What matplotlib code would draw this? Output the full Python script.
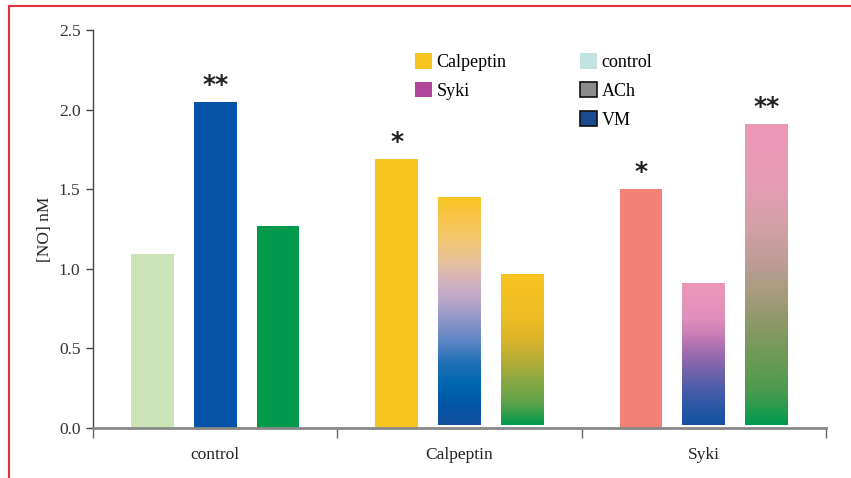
import numpy as np
import matplotlib
matplotlib.use("Agg")
import matplotlib.pyplot as plt
from matplotlib.colors import LinearSegmentedColormap
from matplotlib.patches import Patch
from matplotlib.lines import Line2D

plt.rcParams['font.family'] = ['Liberation Serif', 'DejaVu Serif']

# dati
groups = ["control", "Calpeptin", "Syki"]
control_vals = [1.09, 2.05, 1.27]
calpeptin_vals = [1.69, 1.45, 0.97]
syki_vals = [1.50, 0.91, 1.91]
stars = {(0, 1): "**", (1, 0): "*", (2, 0): "*", (2, 2): "**"}

legend_labels = ["Calpeptin", "Syki", "", "control", "ACh", "VM"]

# colori: tinta unita oppure gradiente (dall'alto verso il basso)
fills = [
    ["#cde4b9", "#0652a6", "#00994c"],
    ["#f8c421",
     ["#f8c523", "#f7c44a", "#f2c76e", "#e8c197", "#d5b4bc", "#b9a6cb", "#8b95c8",
      "#5c86c6", "#1f70b6", "#0068b0", "#0056a5", "#1450a0"],
     ["#f8c421", "#f3c122", "#ecbc23", "#dcb52a", "#b8ad38", "#88a843", "#5ea24a", "#009a4c"]],
    ["#f48176",
     ["#ec97b6", "#e694ba", "#e18fbc", "#c57cb5", "#9b6aae", "#7262ab", "#4a5daa",
      "#2a57a6", "#1550a1"],
     ["#ec97b6", "#e89ab5", "#e29db3", "#d4a0a8", "#c09d98", "#a89c7f", "#8b9866",
      "#6c9a55", "#4c9a4e", "#009a4c"]],
]

values = [control_vals, calpeptin_vals, syki_vals]

fig = plt.figure(figsize=(8.51, 4.78), dpi=100)
ax = fig.add_axes([93 / 851, 1 - 428 / 478, (826 - 93) / 851, (428 - 30) / 478])

width = 0.175
offsets = [-0.257, 0, 0.257]

for g, vals in enumerate(values):
    for i, v in enumerate(vals):
        x = g + offsets[i]
        fill = fills[g][i]
        if isinstance(fill, str):
            ax.bar(x, v, width=width, color=fill, zorder=2)
        else:
            # barra con gradiente
            bottom = 0.02
            b = ax.bar(x, v - bottom, width=width, bottom=bottom, color="none", zorder=2)[0]
            cmap = LinearSegmentedColormap.from_list("g%d%d" % (g, i), fill[::-1])
            grad = np.linspace(0, 1, 256).reshape(-1, 1)
            im = ax.imshow(grad, cmap=cmap, aspect="auto", origin="lower",
                           extent=(x - width / 2, x + width / 2, bottom, v), zorder=2)
            im.set_clip_path(b)
        if (g, i) in stars:
            ax.text(x, v + 0.105, stars[(g, i)], ha="center", va="center",
                    fontsize=18, fontweight="bold", family="DejaVu Sans", color="#222222")

ax.set_xlim(-0.5, 2.5)
ax.set_ylim(0, 2.5)
ax.set_yticks(np.arange(0, 2.51, 0.5))
ax.set_yticklabels(["%.1f" % t for t in np.arange(0, 2.51, 0.5)], fontsize=12.5, color="#333333")
ax.set_xticks([-0.5, 0.5, 1.5, 2.5])
ax.set_xticklabels([])
ax.set_xticks([0, 1, 2], minor=True)
ax.set_xticklabels(groups, minor=True, fontsize=12.5, color="#222222")
ax.tick_params(axis="x", which="minor", length=0, pad=14)
ax.tick_params(axis="x", which="major", length=7, width=1, color="#666666")
ax.tick_params(axis="y", length=5, width=1, color="#444444", pad=4)
ax.set_ylabel("[NO] nM", fontsize=12.5, labelpad=4, color="#222222")

for s in ["top", "right"]:
    ax.spines[s].set_visible(False)
ax.spines["bottom"].set_color("#888888")
ax.spines["bottom"].set_linewidth(2)
ax.spines["left"].set_color("#444444")
ax.spines["left"].set_linewidth(1)

# legenda
legend_colors = ["#f8c421", "#b0479a", None, "#c2e3e0", "#8c8c8c", "#1a4b8f"]
legend_edges = ["none", "none", "none", "none", "#111111", "#111111"]
handles = []
for c, e in zip(legend_colors, legend_edges):
    if c is None:
        handles.append(Patch(facecolor="none", edgecolor="none"))
    else:
        handles.append(Patch(facecolor=c, edgecolor=e, linewidth=1.2))
fig.legend(handles, legend_labels, ncol=2, loc="upper left",
           bbox_to_anchor=(415 / 851, 1 - 53 / 478), frameon=False, fontsize=13,
           handlelength=0.95, handleheight=0.95, handletextpad=0.25, labelspacing=0.6,
           columnspacing=4.05, borderpad=0, borderaxespad=0)

# cornice rossa
fig.add_artist(Line2D([9 / 851, 1], [1 - 6 / 478, 1 - 6 / 478], color="#e8303a", lw=1.5))
fig.add_artist(Line2D([9 / 851, 9 / 851], [0, 1 - 6 / 478], color="#e8303a", lw=1.5))

fig.savefig("out.png", dpi=100)
